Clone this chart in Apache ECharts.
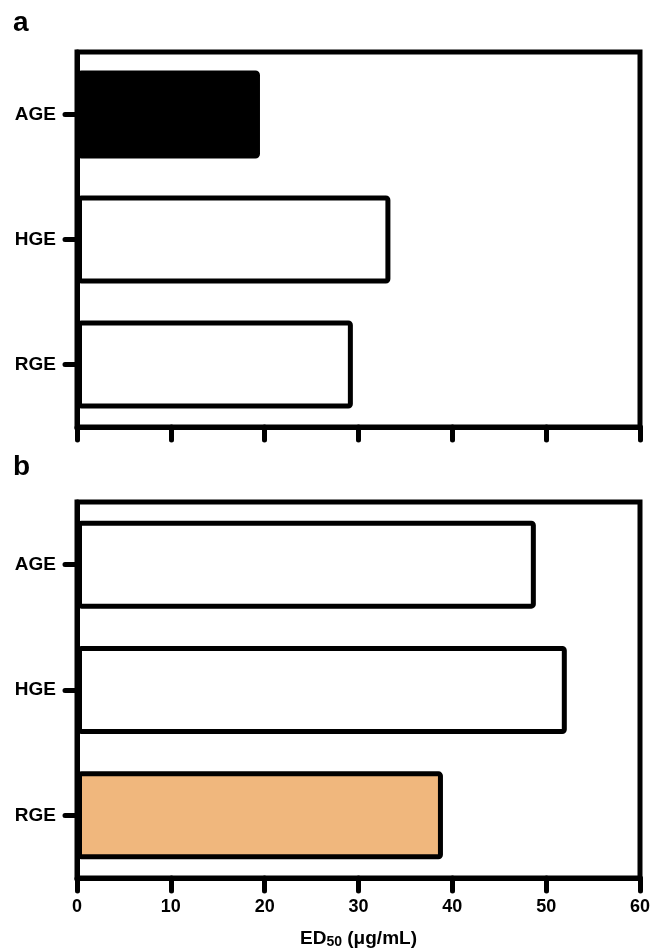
<!DOCTYPE html>
<html lang="en">
<head>
    <meta charset="UTF-8">
    <title>ED50</title>
    <script src="https://cdn.jsdelivr.net/npm/echarts@6/dist/echarts.min.js"></script>
    <style>
        html, body { margin: 0; padding: 0; background: #fff; }
        #main { width: 660px; height: 950px; }
    </style>
</head>
<body>
<div id="main"></div>
<script type="text/javascript">
    var categories = ['AGE', 'HGE', 'RGE'];
    var valuesA = [19.5, 33.4, 29.4];
    var valuesB = [48.9, 52.2, 39.0];
    var xTicks = [0, 10, 20, 30, 40, 50, 60];
    var fillA = ['#000000', '#ffffff', '#ffffff'];
    var fillB = ['#ffffff', '#ffffff', '#f0b77d'];

    var font = 'Liberation Sans, Arial, sans-serif';

    function barData(vals, fills) {
        return vals.map(function (v, i) {
            return { value: v, itemStyle: { color: fills[i] } };
        });
    }

    function xAxisFor(idx, showLabels) {
        return {
            type: 'value',
            gridIndex: idx,
            min: xTicks[0],
            max: xTicks[xTicks.length - 1],
            interval: 10,
            splitLine: { show: false },
            axisLine: { show: true, lineStyle: { color: '#000', width: 5 } },
            axisTick: { show: true, length: 13, lineStyle: { color: '#000', width: 5, cap: 'round' } },
            axisLabel: {
                show: showLabels, margin: 20, color: '#000',
                fontFamily: font, fontWeight: 'bold', fontSize: 18
            },
            name: showLabels ? '{a|ED}{s|50}{a| (μg/mL)}' : '',
            nameLocation: 'middle',
            nameGap: 51,
            nameTextStyle: {
                rich: {
                    a: { fontFamily: font, fontWeight: 'bold', fontSize: 19, color: '#000' },
                    s: { fontFamily: font, fontWeight: 'bold', fontSize: 14, color: '#000', padding: [6, 0, 0, 0] }
                }
            }
        };
    }

    function yAxisFor(idx) {
        return {
            type: 'category',
            gridIndex: idx,
            data: categories,
            inverse: true,
            axisLine: { show: true, lineStyle: { color: '#000', width: 5 } },
            axisTick: { show: true, alignWithLabel: true, length: 12, lineStyle: { color: '#000', width: 5, cap: 'round' } },
            axisLabel: { margin: 21, color: '#000', fontFamily: font, fontWeight: 'bold', fontSize: 19 },
            splitLine: { show: false }
        };
    }

    var barStyle = { borderColor: '#000', borderWidth: 5, borderRadius: 2 };

    var chart = echarts.init(document.getElementById('main'));
    var option = {
        backgroundColor: '#fff',
        animation: false,
        title: [
            { text: 'a', left: 8, top: 4, textStyle: { fontFamily: font, fontWeight: 'bold', fontSize: 28, color: '#000' } },
            { text: 'b', left: 8, top: 448, textStyle: { fontFamily: font, fontWeight: 'bold', fontSize: 28, color: '#000' } }
        ],
        grid: [
            { left: 77, top: 52, width: 563, height: 375, show: true, borderColor: '#000', borderWidth: 5 },
            { left: 77, top: 502, width: 563, height: 376, show: true, borderColor: '#000', borderWidth: 5 }
        ],
        xAxis: [xAxisFor(0, false), xAxisFor(1, true)],
        yAxis: [yAxisFor(0), yAxisFor(1)],
        series: [
            {
                type: 'bar', xAxisIndex: 0, yAxisIndex: 0,
                barWidth: 88,
                itemStyle: barStyle,
                data: barData(valuesA, fillA)
            },
            {
                type: 'bar', xAxisIndex: 1, yAxisIndex: 1,
                barWidth: 88,
                itemStyle: barStyle,
                data: barData(valuesB, fillB)
            }
        ]
    };
    chart.setOption(option);
</script>
</body>
</html>
